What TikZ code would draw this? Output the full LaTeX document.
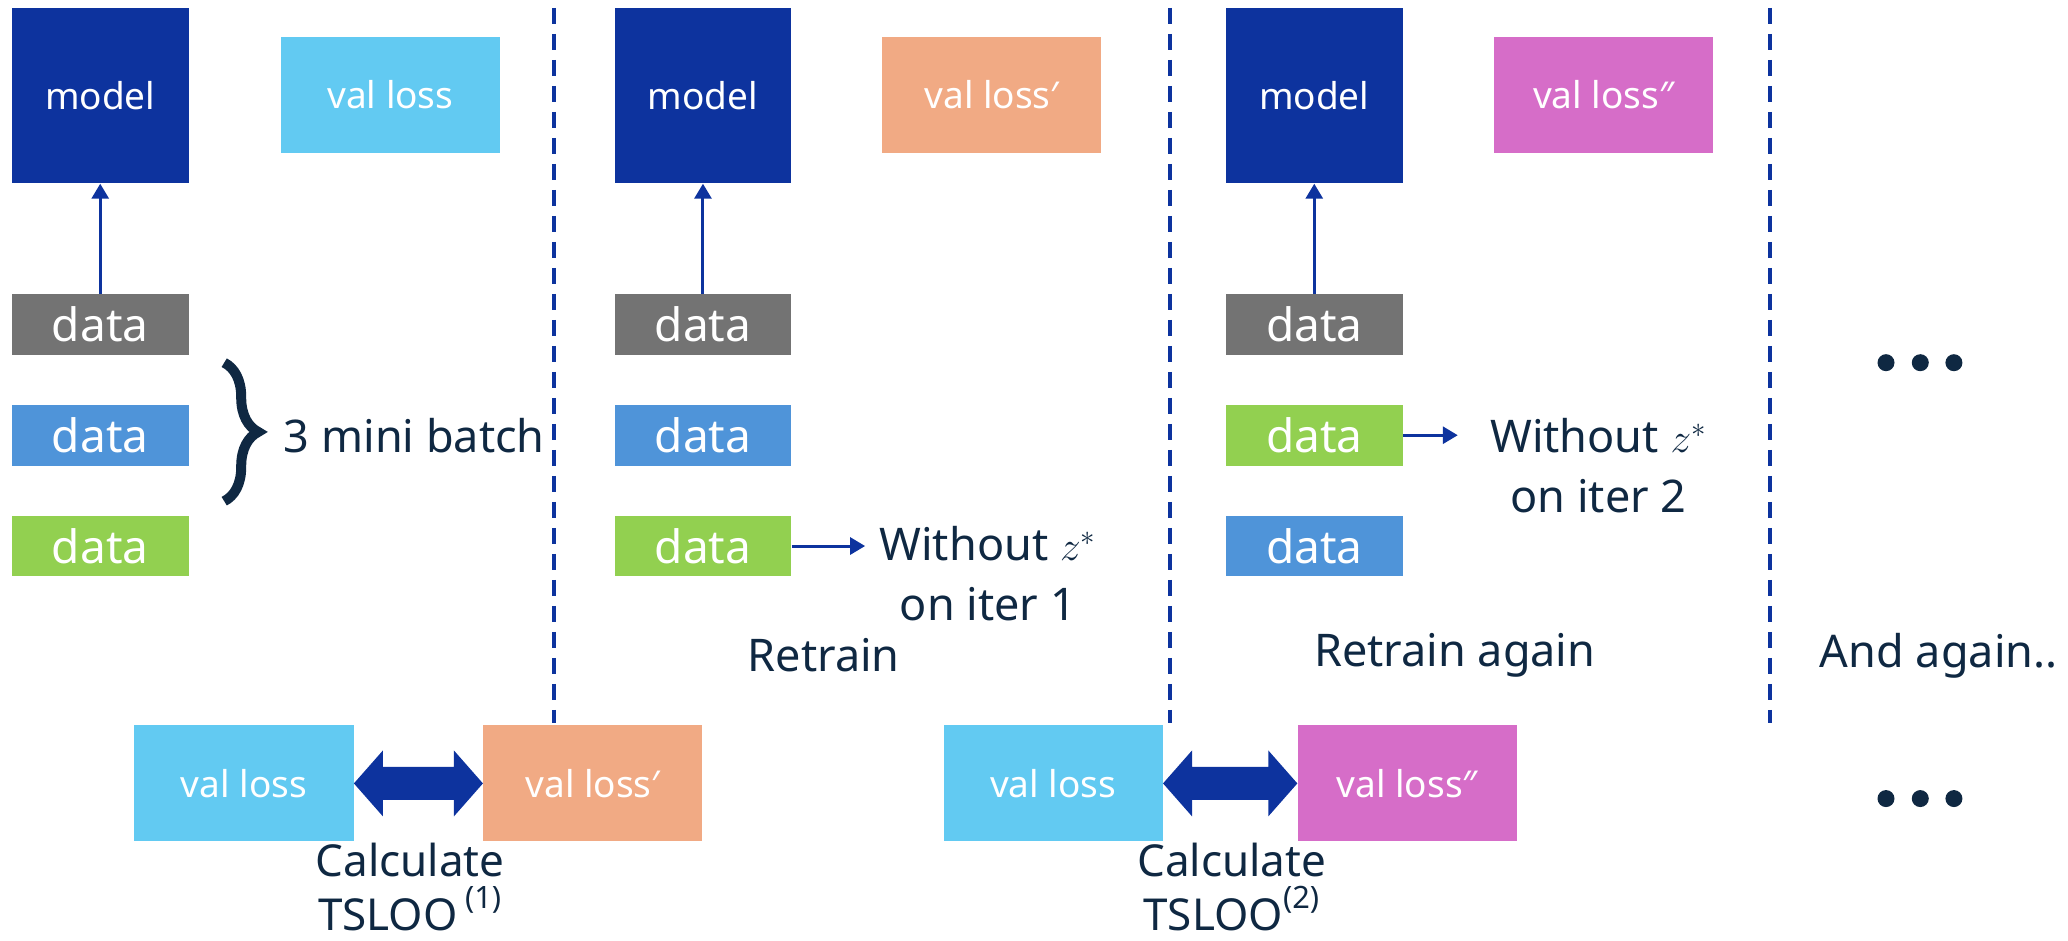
\documentclass[tikz,border=0pt]{standalone}
\usepackage{fontspec}
\setmainfont{Noto Sans}
\usetikzlibrary{arrows.meta,calc,decorations.pathreplacing}
\definecolor{mblue}{RGB}{13,51,158}
\definecolor{vcyan}{RGB}{98,202,242}
\definecolor{vorange}{RGB}{241,170,132}
\definecolor{vmag}{RGB}{214,109,200}
\definecolor{dgray}{RGB}{115,115,115}
\definecolor{dblue}{RGB}{79,148,217}
\definecolor{dgreen}{RGB}{146,208,80}
\definecolor{navy}{RGB}{15,40,66}
\begin{document}
\begin{tikzpicture}[x=0.6594pt,y=-0.6594pt,
 modelbox/.style={fill=mblue, text=white, minimum width=88.4pt, minimum height=87.7pt, inner sep=0, font=\fontsize{18.5}{22}\selectfont},
 lossbox/.style={text=white, minimum width=109.5pt, minimum height=58pt, inner sep=0, font=\fontsize{18.5}{22}\selectfont},
 databox/.style={text=white, minimum width=88.4pt, minimum height=30.3pt, inner sep=0, font=\fontsize{23}{27}\selectfont},
 lbl/.style={text=navy, font=\fontsize{22.5}{30}\selectfont, align=center, inner sep=0},
 lbltwo/.style={text=navy, font=\fontsize{22}{26.6}\selectfont, align=center, inner sep=0},
 thinarrow/.style={draw=mblue, line width=1.5pt, -{Triangle[length=7.5pt,width=8.5pt]}},
 sepline/.style={draw=mblue, line width=2pt, dash pattern=on 8pt off 5pt},
 dotnode/.style={circle, fill=navy, minimum size=8.5pt, inner sep=0},
 bracestyle/.style={draw=navy, line width=5pt, decorate, decoration={brace, amplitude=17pt}},
]
\useasboundingbox (0,0) rectangle (1568,713);

% separators
\draw[sepline] (420,6) -- (420,548);
\draw[sepline] (887,6) -- (887,548);
\draw[sepline] (1342,6) -- (1342,548);

% column 1
\node[modelbox] (m1) at (76,72.5) {model};
\node[lossbox, fill=vcyan] (v1) at (296,72) {val loss};
\node[databox, fill=dgray] (d11) at (76,246) {data};
\node[databox, fill=dblue] (d12) at (76,330) {data};
\node[databox, fill=dgreen] (d13) at (76,414) {data};
\draw[thinarrow] (d11.north) -- (m1.south);
\coordinate (bt) at (170,275);
\coordinate (bb) at (170,380);
\draw[bracestyle] (bt) -- (bb);
\node[lbl, anchor=west] (mb) at (215,330) {3 mini batch};

% column 2
\node[modelbox] (m2) at (533,72.5) {model};
\node[lossbox, fill=vorange] (v2) at (752,72) {val loss′};
\node[databox, fill=dgray] (d21) at (533,246) {data};
\node[databox, fill=dblue] (d22) at (533,330) {data};
\node[databox, fill=dgreen] (d23) at (533,414) {data};
\draw[thinarrow] (d21.north) -- (m2.south);
\node[lbl] (w1) at (749,435) {Without $z^*$\\on iter 1};
\draw[thinarrow, shorten >=7pt] (d23.east) -- (d23.east -| w1.west);
\node[lbl] (rt1) at (624.5,497) {Retrain};

% column 3
\node[modelbox] (m3) at (996.5,72.5) {model};
\node[lossbox, fill=vmag] (v3) at (1216,72) {val loss″};
\node[databox, fill=dgray] (d31) at (996.5,246) {data};
\node[databox, fill=dgreen] (d32) at (996.5,330) {data};
\node[databox, fill=dblue] (d33) at (996.5,414) {data};
\draw[thinarrow] (d31.north) -- (m3.south);
\node[lbl] (w2) at (1212,353) {Without $z^*$\\on iter 2};
\draw[thinarrow, shorten >=16pt] (d32.east) -- (d32.east -| w2.west);
\node[lbl] (rt2) at (1103,497) {Retrain again};

% column 4
\node[dotnode] (p1) at (1430,275) {};
\node[dotnode] (p2) at (1456,275) {};
\node[dotnode] (p3) at (1481.5,275) {};
\node[lbl] (ag) at (1470,497) {And again..};

% bottom 1
\node[lossbox, fill=vcyan] (b1) at (185,594) {val loss};
\node[lossbox, fill=vorange] (b1p) at (449.5,594) {val loss′};
\fill[mblue] (b1.east) -- ++(22,-25) -- ++(0,12.5) -- ($(b1p.west)+(-22,-12.5)$) -- ++(0,-12.5) -- (b1p.west) -- ++(-22,25) -- ++(0,-12.5) -- ($(b1.east)+(22,12.5)$) -- ++(0,12.5) -- cycle;
\node[lbltwo] (c1) at (311,672.5) {Calculate\\TSLOO\,\raisebox{0.15em}{\textsuperscript{(1)}}};

% bottom 2
\node[lossbox, fill=vcyan] (b2) at (798.5,594) {val loss};
\node[lossbox, fill=vmag] (b2p) at (1067,594) {val loss″};
\fill[mblue] (b2.east) -- ++(22,-25) -- ++(0,12.5) -- ($(b2p.west)+(-22,-12.5)$) -- ++(0,-12.5) -- (b2p.west) -- ++(-22,25) -- ++(0,-12.5) -- ($(b2.east)+(22,12.5)$) -- ++(0,12.5) -- cycle;
\node[lbltwo] (c2) at (934,672.5) {Calculate\\TSLOO\raisebox{0.15em}{\textsuperscript{(2)}}};

\node[dotnode] (q1) at (1430,605.5) {};
\node[dotnode] (q2) at (1456,605.5) {};
\node[dotnode] (q3) at (1481.5,605.5) {};
\end{tikzpicture}
\end{document}
